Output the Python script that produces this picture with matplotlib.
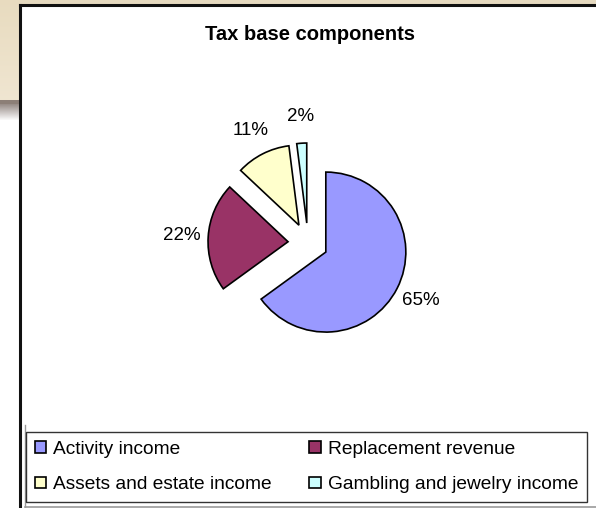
import numpy as np
import matplotlib
matplotlib.use("Agg")
import matplotlib.pyplot as plt
from matplotlib.patches import Rectangle
from matplotlib.lines import Line2D

categories = ["Activity income", "Replacement revenue",
              "Assets and estate income", "Gambling and jewelry income"]
values = [65, 22, 11, 2]
colors = ["#9999FF", "#993366", "#FFFFCC", "#CCFFFF"]
title = "Tax base components"

W, H = 596, 508
plt.rcParams['font.family'] = ['Liberation Sans', 'DejaVu Sans']
fig = plt.figure(figsize=(W / 100, H / 100), dpi=100)
fig.patch.set_facecolor("white")

def fx(x):
    return x / W

def fy(y):
    return 1 - y / H

# page background: beige strip on top and left, with gray shadow
bg = fig.add_axes([0, fy(120), fx(20), 120 / H])
n = 120
grad = np.ones((n, 1, 3))
beige_top = np.array([0.91, 0.86, 0.75])
beige_bot = np.array([0.94, 0.90, 0.82])
for i in range(n):
    if i < 100:
        t = i / 100
        grad[i, 0] = beige_top * (1 - t) + beige_bot * t
    elif i < 104:
        grad[i, 0] = np.array([0.55, 0.50, 0.47])
    else:
        t = (i - 104) / 16
        grad[i, 0] = np.array([0.60, 0.56, 0.54]) * (1 - t) + np.array([1, 1, 1]) * t
bg.imshow(grad, aspect="auto", extent=[0, 1, 0, 1], interpolation="bilinear")
bg.set_axis_off()
fig.add_artist(Rectangle((0, fy(5)), 1, 5 / H, transform=fig.transFigure,
                         facecolor="#E6DAC0", edgecolor="none", zorder=0))

# chart frame
fig.add_artist(Line2D([fx(20), 1], [fy(5), fy(5)], color="#111111", lw=2.2,
                      transform=fig.transFigure))
fig.add_artist(Line2D([fx(20), fx(20)], [fy(5), 0], color="#111111", lw=2.2,
                      transform=fig.transFigure))
fig.add_artist(Line2D([fx(24.5), fx(24.5)], [fy(425), 0], color="#999999", lw=1,
                      transform=fig.transFigure))
fig.add_artist(Line2D([fx(24.5), 1], [fy(506.5), fy(506.5)], color="#999999", lw=1.2,
                      transform=fig.transFigure))

fig.text(fx(310), fy(34), title, ha="center", va="center",
         fontsize=14.5, fontweight="bold")

# pie: center at (308,243) px, radius 80 px
cx, cy, r = 308, 243, 80
ax = fig.add_axes([fx(cx - 2 * r), fy(cy + 2 * r), 4 * r / W, 4 * r / H])
wedges, texts, autotexts = ax.pie(
    values, colors=colors, startangle=90, counterclock=False,
    explode=[0.25] * len(values), autopct="%.0f%%", pctdistance=1.33,
    wedgeprops=dict(edgecolor="black", linewidth=1.2),
    textprops=dict(fontsize=13.5, color="black"))
ax.set_xlim(-2, 2)
ax.set_ylim(-2, 2)
ax.set_aspect("auto")
ax.set_axis_off()

# legend filled row by row, as in the reference
order = [0, 2, 1, 3]
leg = fig.legend([wedges[i] for i in order], [categories[i] for i in order],
                 loc="lower left", ncol=2, mode="expand",
                 bbox_to_anchor=(fx(26), fy(502), 561 / W, 72 / H),
                 fontsize=13.8, frameon=True, fancybox=False, shadow=False,
                 handlelength=0.6, handleheight=0.55, handletextpad=0.35,
                 labelspacing=0.96, borderpad=0.46, borderaxespad=0)
leg.get_frame().set_edgecolor("black")
leg.get_frame().set_linewidth(1.0)
for h in leg.legend_handles:
    h.set_linewidth(1.2)

fig.savefig("out.png", dpi=100)
